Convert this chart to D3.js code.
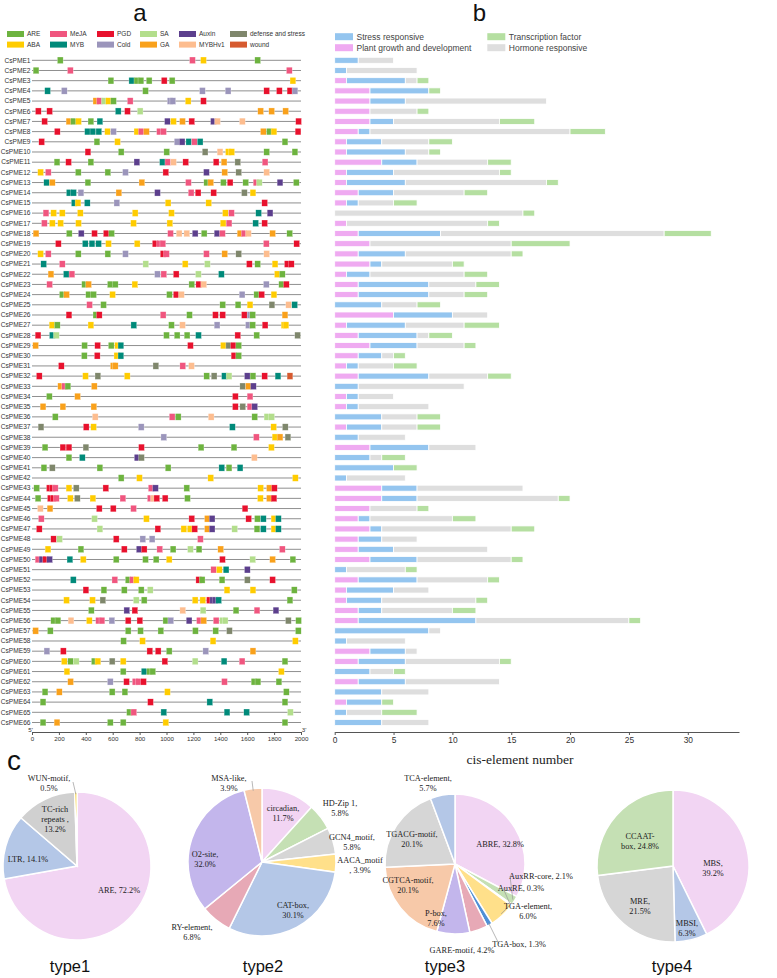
<!DOCTYPE html>
<html>
<head>
<meta charset="utf-8">
<script src="https://cdn.jsdelivr.net/npm/d3@7"></script>
<style>
  body { margin: 0; background: #fff; }
  svg { display: block; font-family: "Liberation Sans", Arial, sans-serif; }
  .serif { font-family: "Liberation Serif", "Times New Roman", serif; }
</style>
</head>
<body>
<div id="chart"></div>
<script>
// ---------- data ----------
const genes = d3.range(1, 67).map(i => 'CsPME' + i);

// panel a: motif types (legend order, column by column)
const motifTypes = ['ARE', 'ABA', 'MeJA', 'MYB', 'PGD', 'Cold', 'SA', 'GA', 'Auxin', 'MYBHv1', 'defense and stress', 'wound'];
const motifCodes = ['R', 'A', 'J', 'M', 'P', 'C', 'S', 'G', 'X', 'H', 'D', 'W'];
const motifColors = ['#6db33f', '#ffcc00', '#f0567f', '#008a7a', '#e8112d', '#9b95bb', '#b3de8c', '#f9a11b', '#5c3f8d', '#fdbd8f', '#7f876c', '#d65a2f'];

// motif positions (bp from 5') per gene, code + position
const motifs = [
  'R210 J1193 A1275 R1678',
  'R30 J285 J1913',
  'R587 M742 R780 R810 R871 P983 R1042 A1940',
  'M116 C240 R844 C1267 C1458 P1745 P1839 P1918 C1955',
  'G475 J502 S537 A569 R606 J730 C1027 C1047 A1161 P1275',
  'P47 P131 M641 P710 S804 G1700 G1782 G1886',
  'P94 G275 R309 A346 R438 M505 X1007 A1052 G1119 P1188 X1349 H1379 H1564 P1982',
  'P188 M413 M453 M497 A562 C606 A780 J812 G851 J948 J978 G1720 R1765 A1799 P1978',
  'P72 R483 A636 C1079 X1116 M1166 J1208 M1250 R1881',
  'P416 R663 R1002 D1287 H1398 A1460 A1485 R1745 R1955',
  'R186 P272 R438 X780 M970 J1010 H1052 P1143 P1369 G1428 D1530 J1733',
  'A64 J121 R344 R564 C695 P995 X1297 G1433 D1537 H1745',
  'M109 G151 R416 G817 J1163 R1299 G1329 R1423 P1473 R1589 J1666 S1690 X1844 R1965',
  'M277 M309 C364 G646 X933 J1183 P1235 P1351 D1579 A1643',
  'M314 A342 M411 C631 A1012 A1314 P1730',
  'J104 A161 A225 A359 A767 A1037 A1438 J1483 M1685 X1770',
  'J92 A151 A213 A346 A755 A1025 A1421 J1465 M1663 P1730',
  'G30 R277 X366 P465 P552 R592 J1030 H1094 H1151 X1213 R1280 X1376 J1416 G1547 J1577 H1609 G1789 R1916',
  'P196 M396 M446 M495 A569 A782 P916 J948 J973 J1742 P1968',
  'A64 J121 R344 R564 C695 P975 J1000 J1297 G1433 D1537 H1745',
  'M87 J225 S846 A1139 S1304 P1616 R1678 A1807 P1898 P1928',
  'G141 M255 J297 C933 J980 P1072 S1237 M1408 A1824 R1861',
  'J131 R391 G421 R582 R619 A765 R1188 P1240 H1277 C1742 R1856 P1891',
  'R225 G257 R421 R458 A599 R1022 P1072 H1111 C1562 R1671 P1708 A1799',
  'J428 R532 R1418 R1532 A1621 D1784 H1908 M1953',
  'P275 R475 P500 J975 R1171 P1364 P1418 P1579 C1621 R1641 G1881',
  'A149 R188 A438 M757 R1037 H1119 C1376 C1609 R1641 P1733 A1874 A1888',
  'P45 M151 S181 R1000 R1079 R1153 M1238 P1530 R1671 D1975',
  'G27 R391 P488 R589 A636 M661 P1178 A1423 D1463 P1497 R1537',
  'R389 P485 A631 M661 P1502 R1537',
  'P218 G604 G619 D921 J1121 H1186',
  'P54 A398 D490 A708 R1299 D1354 M1431 S1465 X1601 R1643 P1730 M1829 W1918',
  'G213 J243 R267 G463 D1567 G1609 X1646',
  'R129 G339 P1512 J1621',
  'G82 G230 G460 P1512 D1567 J1621 X1656',
  'R173 H470 J1042 R1087 H1332 R1656 S1747 S1782',
  'D67 P403 A458 C812 M1490 A1797 D1883',
  'C980 J1668 A1807 G1844 D1903',
  'R97 P230 P275 D401 P814 R1257 R1502 A1780',
  'R275 M374 X782 D814 H1653',
  'R89 D151 R505 R1012 M1411 R1465 M1547',
  'R663 A799 A1329 A1958',
  'R35 P129 P151 J173 A275 D329 P549 J886 X918 R1151 A1700 G1765 P1802',
  'R45 P136 P158 J181 A285 D337 A453 J676 J879 H903 P928 P990 R1156 A1698 G1765 P1799',
  'H62 G134 P500 P604 J755 P1584',
  'J69 S465 A851 P1188 G1304 X1339 P1611 R1676 M1720 A1799 M1832',
  'P54 S505 P936 A1129 A1176 P1210 G1304 X1339 S1507 R1673 M1720 A1799 M1832',
  'P161 S205 P626 C824 C893 J1252',
  'A119 R364 P686 X797 P834 J950 R1049 S1178 R1242 G1403 J1861',
  'J45 X74 P101 X131 M282 A381 R626 R844 R923 A1020 P1416 S1641 G1789 R1940',
  'J1351 A1393 M1443 X1601',
  'M307 J616 R715 J747 A775 P1240 R1265 R1413 D1601 P1789',
  'P401 R535 R686 R812 S879 A1450 A1643 R1950',
  'A257 A450 D527 S775 R834 A1213 A1270 P1319 X1344 X1361 M1388 R1918',
  'R441 X705 P765 H1121 S1272 R1517 J1673 X1814',
  'R161 R193 H290 A426 J495 J520 C594 P715 P802 R995 C1032 X1168 J1245 G1277 J1369 S1416 S1436 D1906 R1982',
  'G27 R136 R715 R807 R958 R1215 R1366 D1468 R1980',
  'R681 A822 A1346 A1958',
  'C111 P233 P876 P938 R1020 C1292 G1643',
  'A240 R287 S329 R463 A490 D596 A678 P988 S1213 M1428 J1562 R1881',
  'A260 R678 M834 R874 R898 A1854',
  'G287 C582 P703 J767 J792 P829 J1431 R1651 R1680 R1836',
  'R97 G203 R596 R691 A1007 R1891',
  'R82 P881 M1322 R1881',
  'R725 J757 M980 M1450 M1596 S1921',
  'R82 G186 R582 R678 A995 R1881'
];
const seqTicks = [0, 200, 400, 600, 800, 1000, 1200, 1400, 1600, 1800, 2000];

// panel b: cis-element counts per gene
const growth  = [0,0,1,3,3,3,3,2,1,1,4,1,1,2,1,0,1,2,3,2,3,1,2,2,0,5,1,2,3,2,1,2,0,1,1,0,1,0,3,0,0,0,4,4,3,2,3,2,2,3,0,2,1,1,2,2,0,0,3,2,0,2,0,1,0,0];
const stress  = [2,1,5,5,3,0,2,1,3,5,3,4,5,3,1,0,0,7,0,4,1,2,6,6,4,5,5,5,4,2,1,6,2,1,1,4,3,2,5,3,5,1,3,3,0,1,1,2,3,4,1,5,4,3,2,10,8,1,3,4,3,4,4,3,1,4];
const hormone = [3,6,1,0,12,4,9,17,4,2,6,9,12,6,3,16,12,19,12,9,6,8,4,3,3,3,5,1,4,1,3,5,9,3,6,3,3,4,4,1,0,5,9,12,4,7,11,3,8,8,5,6,3,8,6,13,1,5,1,8,2,8,4,0,3,4];
const tf      = [0,0,1,1,0,1,3,3,2,1,2,1,1,2,2,1,1,4,5,1,1,2,2,2,2,0,3,2,1,1,2,2,0,0,0,2,2,0,0,2,2,0,0,1,1,2,2,0,0,1,1,1,0,1,2,1,0,0,0,1,1,0,0,1,3,0];
const barSeries = ['Plant growth and development', 'Stress responsive', 'Hormone responsive', 'Transcription factor'];
const barColors = ['#efaaf1', '#94c5ef', '#dedede', '#b5dfa1'];
const countTicks = [0, 5, 10, 15, 20, 25, 30];

// panel c: pies
const type1Values = [72.2, 14.1, 13.2, 0.5];
const type1Lines = [['ARE, 72.2%'], ['LTR, 14.1%'], ['TC-rich', 'repeats ,', '13.2%'], ['WUN-motif,', '0.5%']];
const type1Colors = ['#f2d5f3', '#b4c7e7', '#d0d0d0', '#f5c200'];

const type2Values = [11.7, 5.8, 5.8, 3.9, 30.1, 6.8, 32.0, 3.9];
const type2Lines = [['circadian,', '11.7%'], ['HD-Zip 1,', '5.8%'], ['GCN4_motif,', '5.8%'], ['AACA_motif', ', 3.9%'],
  ['CAT-box,', '30.1%'], ['RY-element,', '6.8%'], ['O2-site,', '32.0%'], ['MSA-like,', '3.9%']];
const type2Colors = ['#f2d5f3', '#c5e0b4', '#d6d6d6', '#ffe08a', '#b4c7e7', '#e7a9b6', '#c3b6ec', '#f7c9a9'];

const type3Values = [32.8, 2.1, 0.3, 6.0, 1.3, 4.2, 7.6, 20.1, 20.1, 5.7];
const type3Lines = [['ABRE, 32.8%'], ['AuxRR-core, 2.1%'], ['AuxRE, 0.3%'], ['TGA-element,', '6.0%'], ['TGA-box, 1.3%'],
  ['GARE-motif, 4.2%'], ['P-box,', '7.6%'], ['CGTCA-motif,', '20.1%'], ['TGACG-motif,', '20.1%'], ['TCA-element,', '5.7%']];
const type3Colors = ['#f2d5f3', '#c5e0b4', '#d6d6d6', '#ffe08a', '#4f8fd6', '#e7a9b6', '#c3b6ec', '#f7c9a9', '#d6d6d6', '#b4c7e7'];

const type4Values = [39.2, 6.3, 21.5, 24.8];
const type4Lines = [['MBS,', '39.2%'], ['MBSI,', '6.3%'], ['MRE,', '21.5%'], ['CCAAT-', 'box, 24.8%']];
const type4Colors = ['#f2d5f3', '#b4c7e7', '#d6d6d6', '#c5e0b4'];

// ---------- layout ----------
const W = 777, H = 978;
const svg = d3.select('#chart').append('svg').attr('width', W).attr('height', H);

const y = d3.scalePoint().domain(genes).range([60.3, 722.5]);
const xA = d3.scaleLinear().domain([0, 2000]).range([32, 301]);
const xB = d3.scaleLinear().domain([0, 30]).range([334.7, 687.7]);
const axisY = 732;

// panel titles
svg.append('text').attr('x', 140).attr('y', 21).attr('text-anchor', 'middle')
  .attr('font-size', 24).attr('fill', '#111').text('a');
svg.append('text').attr('x', 479.5).attr('y', 21).attr('text-anchor', 'middle')
  .attr('font-size', 24).attr('fill', '#111').text('b');
svg.append('text').attr('x', 7).attr('y', 770).attr('font-size', 28).attr('fill', '#111').text('c');

// ---------- panel a ----------
const legA = svg.append('g');
const legColsA = [7, 50, 97, 140, 179, 230];
motifTypes.forEach((t, i) => {
  const col = Math.floor(i / 2), row = i % 2;
  const gy = 34 + row * 10.6;
  legA.append('rect').attr('x', legColsA[col]).attr('y', gy - 3).attr('width', 17).attr('height', 6)
    .attr('fill', motifColors[i]);
  legA.append('text').attr('x', legColsA[col] + 20).attr('y', gy + 2.3)
    .attr('font-size', 6.5).attr('fill', '#333').text(t);
});

const gA = svg.append('g');
gA.selectAll('line.row').data(genes).join('line').attr('class', 'row')
  .attr('x1', xA(0)).attr('x2', xA(2000))
  .attr('y1', d => y(d)).attr('y2', d => y(d))
  .attr('stroke', '#8f8f8f').attr('stroke-width', 1);

gA.selectAll('text.lab').data(genes).join('text').attr('class', 'lab')
  .attr('x', 30.5).attr('y', d => y(d) + 2.3).attr('text-anchor', 'end')
  .attr('font-size', 6.6).attr('fill', '#333').text(d => d);

const boxes = [];
motifs.forEach((s, gi) => {
  s.split(' ').forEach(tok => {
    boxes.push({ gene: genes[gi], type: motifCodes.indexOf(tok[0]), pos: +tok.slice(1) });
  });
});
gA.selectAll('rect.motif').data(boxes).join('rect').attr('class', 'motif')
  .attr('x', d => xA(d.pos) - 2.9).attr('y', d => y(d.gene) - 3.3)
  .attr('width', 5.8).attr('height', 6.6)
  .attr('fill', d => motifColors[d.type])
  .attr('stroke', '#fff').attr('stroke-width', 0.4).attr('stroke-opacity', 0.7);

const axA = svg.append('g').attr('transform', `translate(0,${axisY})`)
  .call(d3.axisBottom(xA).tickValues(seqTicks).tickFormat(d3.format('d'))
    .tickSize(3).tickSizeOuter(0).tickPadding(1.5));
axA.select('.domain').attr('stroke', '#555');
axA.selectAll('.tick line').attr('stroke', '#555');
axA.selectAll('.tick text').attr('font-size', 6.2).attr('fill', '#333')
  .attr('font-family', '"Liberation Sans", Arial, sans-serif');
svg.append('text').attr('x', 30.5).attr('y', axisY - 0.5).attr('text-anchor', 'middle')
  .attr('font-size', 6.2).attr('fill', '#333').text("5'");
svg.append('text').attr('x', 304).attr('y', axisY - 0.5).attr('text-anchor', 'middle')
  .attr('font-size', 6.2).attr('fill', '#333').text("3'");

// ---------- panel b ----------
const legB = svg.append('g');
const legOrderB = [1, 0, 3, 2]; // stress, growth | tf, hormone
legOrderB.forEach((si, k) => {
  const col = Math.floor(k / 2), row = k % 2;
  const lx = col === 0 ? 335 : 487.3;
  const gy = 36.7 + row * 11;
  legB.append('rect').attr('x', lx).attr('y', gy - 3.5).attr('width', 18).attr('height', 7)
    .attr('fill', barColors[si]);
  legB.append('text').attr('x', lx + 21.5).attr('y', gy + 3)
    .attr('font-size', 8.5).attr('fill', '#444').text(barSeries[si]);
});

const seriesVals = [growth, stress, hormone, tf];
const segs = [];
genes.forEach((g, gi) => {
  let cum = 0;
  seriesVals.forEach((arr, si) => {
    const v = arr[gi];
    if (v > 0) segs.push({ gene: g, s: si, x0: cum, x1: cum + v });
    cum += v;
  });
});
svg.append('g').selectAll('rect').data(segs).join('rect')
  .attr('x', d => xB(d.x0)).attr('width', d => xB(d.x1) - xB(d.x0))
  .attr('y', d => y(d.gene) - 3).attr('height', 6)
  .attr('fill', d => barColors[d.s])
  .attr('stroke', '#fff').attr('stroke-width', 0.8);

const xBaxis = xB.copy().domain([0, 34.35]).range([334.7, 739]);
const axB = svg.append('g').attr('transform', `translate(0,${axisY})`)
  .call(d3.axisBottom(xBaxis).tickValues(countTicks).tickSize(3).tickSizeOuter(0).tickPadding(2));
axB.select('.domain').attr('stroke', '#555').attr('stroke-width', 1.2);
axB.selectAll('.tick line').attr('stroke', '#555');
axB.selectAll('.tick text').attr('font-size', 8.4).attr('fill', '#333')
  .attr('font-family', '"Liberation Sans", Arial, sans-serif');
svg.append('text').attr('class', 'serif').attr('x', 520).attr('y', 763.5).attr('text-anchor', 'middle')
  .attr('font-size', 13.5).attr('fill', '#222').text('cis-element number');

// ---------- panel c ----------
function drawPie(p) {
  const arcs = d3.pie().sort(null).value(d => d)(p.values);
  const arc = d3.arc().innerRadius(0).outerRadius(p.r);
  const g = svg.append('g').attr('transform', `translate(${p.cx},${p.cy})`);
  g.selectAll('path').data(arcs).join('path')
    .attr('d', arc).attr('fill', (d, i) => p.colors[i])
    .attr('stroke', '#fff').attr('stroke-width', 1.5);

  // leader lines for small outer labels
  (p.leaders || []).forEach(([i, lx, ly]) => {
    const a = (arcs[i].startAngle + arcs[i].endAngle) / 2;
    const px = p.cx + Math.sin(a) * p.r * 0.97, py = p.cy - Math.cos(a) * p.r * 0.97;
    svg.append('line').attr('x1', px).attr('y1', py).attr('x2', lx).attr('y2', ly)
      .attr('stroke', '#999').attr('stroke-width', 0.7);
  });

  p.lines.forEach((lines, i) => {
    const [lx, ly, anchor] = p.labelPos[i];
    const t = svg.append('text').attr('class', 'serif').attr('font-size', 8.3).attr('fill', '#222')
      .attr('text-anchor', anchor || 'middle');
    lines.forEach((ln, k) => {
      t.append('tspan').attr('x', lx).attr('y', ly + k * 9.8).text(ln);
    });
  });

  svg.append('text').attr('x', p.cx + p.titleDx).attr('y', 972).attr('text-anchor', 'middle')
    .attr('font-size', 16.5).attr('fill', '#111').text(p.title);
}

drawPie({
  cx: 77, cy: 866, r: 74, values: type1Values, colors: type1Colors, lines: type1Lines,
  labelPos: [[119, 893], [28, 862], [55, 812], [49, 781]],
  leaders: [[3, 73, 782]], title: 'type1', titleDx: -7
});
drawPie({
  cx: 262, cy: 862, r: 74, values: type2Values, colors: type2Colors, lines: type2Lines,
  labelPos: [[283, 811], [340, 806], [352, 840], [360, 863], [293, 908], [192, 930], [205, 857], [229, 781]],
  leaders: [[7, 252, 781]], title: 'type2', titleDx: 1
});
drawPie({
  cx: 455, cy: 864, r: 70, values: type3Values, colors: type3Colors, lines: type3Lines,
  labelPos: [[500, 847], [541, 879], [521, 891], [528, 909], [519, 947], [462, 953], [436, 916], [408, 883], [412, 837], [428, 781]],
  leaders: [[1, 510, 876], [2, 503, 888], [3, 509, 906], [4, 499, 944]], title: 'type3', titleDx: -10
});
drawPie({
  cx: 673, cy: 866, r: 76, values: type4Values, colors: type4Colors, lines: type4Lines,
  labelPos: [[713, 866], [687, 926], [640, 904], [640, 839]],
  title: 'type4', titleDx: -1
});
</script>
</body>
</html>
